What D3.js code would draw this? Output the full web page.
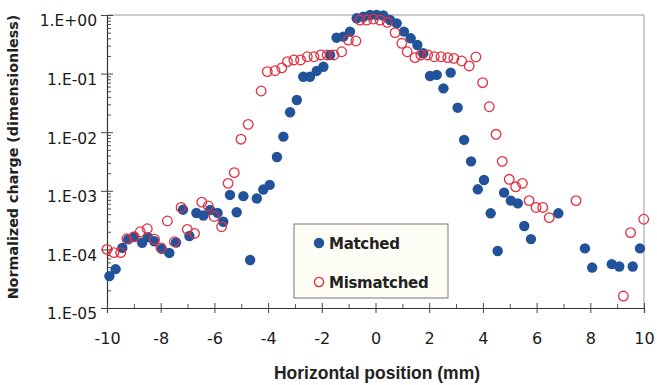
<!DOCTYPE html>
<html>
<head>
<meta charset="utf-8">
<script src="https://cdn.jsdelivr.net/npm/d3@7"></script>
<style>
  body { margin: 0; background: #fff; }
  svg { display: block; }
</style>
</head>
<body>
<div id="chart"></div>
<script>
// Matched series: horizontal position (mm) and normalized charge
const matchedX = [-9.91, -9.68, -9.43, -9.21, -8.99, -8.69, -8.48, -8.24, -7.96, -7.68, -7.43, -7.17, -6.93, -6.67,
  -6.41, -6.16, -5.88, -5.67, -5.42, -5.17, -4.92, -4.67, -4.42, -4.18, -3.94, -3.67, -3.43, -3.18, -2.93, -2.69,
  -2.44, -2.19, -1.94, -1.69, -1.45, -1.20, -0.95, -0.70, -0.45, -0.20, 0.04, 0.29, 0.54, 0.79, 1.06, 1.31, 1.56,
  1.78, 2.03, 2.28, 2.53, 2.80, 3.06, 3.30, 3.56, 3.81, 4.04, 4.29, 4.55, 4.79, 5.04, 5.30, 5.54, 5.79, 6.81, 7.80,
  8.07, 8.80, 9.08, 9.58, 9.85];
const matchedY = [3.5e-5, 4.6e-5, 1.06e-4, 1.48e-4, 1.63e-4, 1.3e-4, 1.62e-4, 1.38e-4, 1.02e-4, 8.7e-5, 1.31e-4,
  4.76e-4, 1.69e-4, 4.18e-4, 3.78e-4, 4.7e-4, 4.2e-4, 2.96e-4, 8.5e-4, 4.3e-4, 8.1e-4, 6.6e-5, 7.4e-4, 1.05e-3,
  1.26e-3, 3.78e-3, 8.4e-3, 2.19e-2, 3.54e-2, 8.85e-2, 8.85e-2, 0.111, 0.131, 0.208, 0.41, 0.427, 0.519, 0.879,
  0.935, 1.0, 1.0, 0.98, 0.82, 0.72, 0.52, 0.40, 0.308, 0.222, 0.091, 0.095, 0.056, 0.104, 0.0262, 7.4e-3, 3.18e-3,
  1.06e-3, 1.53e-3, 4.13e-4, 9.4e-5, 9.3e-4, 6.8e-4, 6.1e-4, 2.51e-4, 1.5e-4, 4.13e-4, 1.04e-4, 4.9e-5, 5.6e-5,
  5.1e-5, 5.1e-5, 1.04e-4];

// Mismatched series
const mismatchedX = [-10.0, -9.74, -9.49, -9.26, -8.99, -8.76, -8.50, -8.23, -7.99, -7.75, -7.49, -7.24, -7.01,
  -6.74, -6.47, -6.23, -6.01, -5.73, -5.49, -5.26, -5.01, -4.74, -4.26, -4.03, -3.74, -3.49, -3.28, -3.04, -2.79,
  -2.54, -2.29, -2.04, -1.80, -1.55, -1.26, -1.01, -0.73, -0.58, -0.33, -0.08, 0.17, 0.44, 0.73, 0.98, 1.18, 1.47,
  1.69, 1.94, 2.19, 2.44, 2.69, 2.92, 3.21, 3.49, 3.74, 3.99, 4.24, 4.49, 4.72, 4.98, 5.22, 5.47, 5.72, 5.98, 6.23,
  6.47, 7.47, 9.23, 9.50, 9.99];
const mismatchedY = [1.0e-4, 8.8e-5, 8.8e-5, 1.52e-4, 1.65e-4, 2.0e-4, 2.25e-4, 1.49e-4, 1.06e-4, 3.05e-4, 1.35e-4,
  5.2e-4, 2.2e-4, 1.87e-4, 6.4e-4, 5.5e-4, 3.64e-4, 2.44e-4, 1.34e-3, 2.04e-3, 7.6e-3, 0.0136, 0.0505, 0.108, 0.112,
  0.125, 0.160, 0.171, 0.171, 0.194, 0.194, 0.208, 0.208, 0.208, 0.236, 0.374, 0.36, 0.82, 0.82, 0.855, 0.82, 0.75,
  0.50, 0.329, 0.236, 0.187, 0.208, 0.208, 0.194, 0.194, 0.187, 0.182, 0.164, 0.135, 0.192, 0.070, 0.0272, 9.2e-3,
  3.18e-3, 1.57e-3, 1.17e-3, 1.34e-3, 6.8e-4, 5.2e-4, 5.2e-4, 3.48e-4, 6.8e-4, 1.6e-5, 1.93e-4, 3.27e-4];

const xTicks = [-10, -8, -6, -4, -2, 0, 2, 4, 6, 8, 10];
const xMinorTicks = [-9, -7, -5, -3, -1, 1, 3, 5, 7, 9];
const yTicks = [1, 1e-1, 1e-2, 1e-3, 1e-4, 1e-5];
const yTickLabels = ['1.E+00', '1.E-01', '1.E-02', '1.E-03', '1.E-04', '1.E-05'];
const seriesNames = ['Matched', 'Mismatched'];

const width = 657, height = 385;
const plotLeft = 107, plotRight = 644, plotTop = 15, plotBottom = 308;
const blue = '#21529a', red = '#e3303f';

const svg = d3.select('#chart').append('svg')
  .attr('width', width)
  .attr('height', height);

const x = d3.scaleLinear().domain([-10, 10]).range([plotLeft, plotRight]);
const y = d3.scaleLog().domain([1e-5, 1]).range([plotBottom, plotTop]);

// grey frame on top and right
svg.append('path')
  .attr('d', `M${plotLeft},${plotTop}H${plotRight}V${plotBottom}`)
  .attr('fill', 'none')
  .attr('stroke', '#9a9a9a')
  .attr('stroke-width', 1);

// minor log ticks for y, inside the plot
const yMinor = [];
for (let e = -5; e < 0; e++) {
  for (let m = 2; m <= 9; m++) yMinor.push(m * Math.pow(10, e));
}
svg.append('g')
  .attr('transform', `translate(${plotLeft},0)`)
  .call(d3.axisRight(y).tickValues(yMinor).tickSize(4).tickFormat(''))
  .call(g => g.select('.domain').remove())
  .selectAll('line').attr('stroke', '#555');

const yAxis = svg.append('g')
  .attr('transform', `translate(${plotLeft},0)`)
  .call(d3.axisLeft(y).tickValues(yTicks).tickSize(0).tickPadding(10)
    .tickFormat((d, i) => yTickLabels[i]));
yAxis.select('.domain').attr('stroke', '#333').attr('stroke-width', 1.2);
yAxis.selectAll('.tick').append('line')
  .attr('x1', -6).attr('x2', 6).attr('stroke', '#444');
yAxis.selectAll('text')
  .attr('dy', '0.7em')
  .style('font-family', 'DejaVu Sans, Verdana, sans-serif')
  .style('font-size', '15.5px')
  .attr('fill', '#1a1a1a');

// x axis
svg.append('g')
  .attr('transform', `translate(0,${plotBottom})`)
  .call(d3.axisTop(x).tickValues(xMinorTicks).tickSize(4).tickFormat(''))
  .call(g => g.select('.domain').remove())
  .selectAll('line').attr('stroke', '#555');

const xAxis = svg.append('g')
  .attr('transform', `translate(0,${plotBottom})`)
  .call(d3.axisBottom(x).tickValues(xTicks).tickSize(5).tickPadding(20)
    .tickFormat(d => String(d)));
xAxis.select('.domain').attr('stroke', '#333').attr('stroke-width', 1.2);
xAxis.selectAll('.tick line').attr('y1', -5).attr('stroke', '#444');
xAxis.selectAll('text')
  .style('font-family', 'DejaVu Sans, Verdana, sans-serif')
  .style('font-size', '16px')
  .attr('fill', '#1a1a1a');

// axis titles
svg.append('text')
  .attr('x', 377)
  .attr('y', 379)
  .attr('text-anchor', 'middle')
  .style('font-family', 'Liberation Sans, Arial, sans-serif')
  .style('font-weight', 'bold')
  .style('font-size', '17.5px')
  .attr('fill', '#222')
  .text('Horizontal position (mm)');

svg.append('text')
  .attr('transform', 'translate(18,157) rotate(-90)')
  .attr('text-anchor', 'middle')
  .style('font-family', 'DejaVu Sans, Verdana, sans-serif')
  .style('font-weight', 'bold')
  .style('font-size', '14.3px')
  .attr('fill', '#222')
  .text('Normalized charge (dimensionless)');

// points
const matched = matchedX.map((v, i) => ({ x: v, y: matchedY[i] }));
const mismatched = mismatchedX.map((v, i) => ({ x: v, y: mismatchedY[i] }));

svg.append('g').selectAll('circle')
  .data(matched)
  .join('circle')
  .attr('cx', d => x(d.x))
  .attr('cy', d => y(d.y))
  .attr('r', 5.2)
  .attr('fill', blue);

svg.append('g').selectAll('circle')
  .data(mismatched)
  .join('circle')
  .attr('cx', d => x(d.x))
  .attr('cy', d => y(d.y))
  .attr('r', 4.8)
  .attr('fill', 'none')
  .attr('stroke', red)
  .attr('stroke-width', 1.3);

// legend
const legend = svg.append('g').attr('transform', 'translate(294,224)');
legend.append('rect')
  .attr('width', 154).attr('height', 74)
  .attr('fill', '#fdfcf5')
  .attr('stroke', '#777')
  .attr('stroke-width', 1);

const items = legend.selectAll('g.item')
  .data(seriesNames)
  .join('g')
  .attr('class', 'item')
  .attr('transform', (d, i) => `translate(25,${19 + i * 39})`);

items.append('circle')
  .attr('r', (d, i) => i === 0 ? 5.2 : 4.6)
  .attr('fill', (d, i) => i === 0 ? blue : 'none')
  .attr('stroke', (d, i) => i === 0 ? 'none' : red)
  .attr('stroke-width', 1.3);

items.append('text')
  .attr('x', 10)
  .attr('y', 6)
  .style('font-family', 'DejaVu Sans, Verdana, sans-serif')
  .style('font-weight', 'bold')
  .style('font-size', '15px')
  .style('letter-spacing', '-0.3px')
  .attr('fill', '#222')
  .text(d => d);
</script>
</body>
</html>
